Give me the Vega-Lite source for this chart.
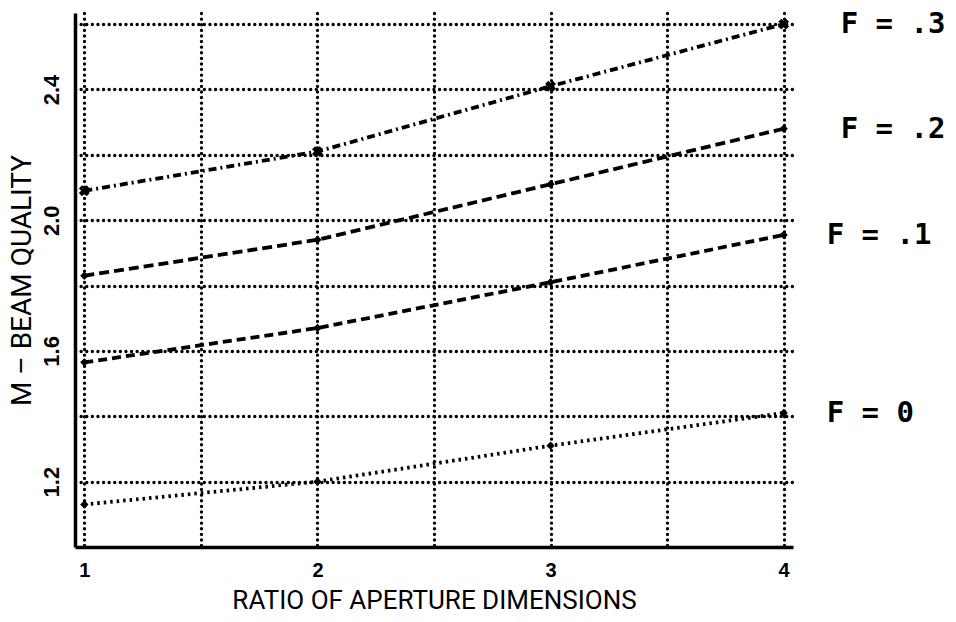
{
  "$schema": "https://vega.github.io/schema/vega-lite/v6.json",
  "width": 718,
  "height": 534,
  "autosize": {"type": "none"},
  "padding": {"left": 75, "top": 13, "right": 163, "bottom": 75},
  "background": "white",
  "config": {"view": {"stroke": null}},
  "data": {
    "values": [
      {"series": "F = .3", "ratio": 1, "m": 2.09},
      {"series": "F = .3", "ratio": 2, "m": 2.21},
      {"series": "F = .3", "ratio": 3, "m": 2.41},
      {"series": "F = .3", "ratio": 4, "m": 2.6},
      {"series": "F = .2", "ratio": 1, "m": 1.83},
      {"series": "F = .2", "ratio": 2, "m": 1.94},
      {"series": "F = .2", "ratio": 3, "m": 2.11},
      {"series": "F = .2", "ratio": 4, "m": 2.28},
      {"series": "F = .1", "ratio": 1, "m": 1.565},
      {"series": "F = .1", "ratio": 2, "m": 1.67},
      {"series": "F = .1", "ratio": 3, "m": 1.81},
      {"series": "F = .1", "ratio": 4, "m": 1.955},
      {"series": "F = 0", "ratio": 1, "m": 1.13},
      {"series": "F = 0", "ratio": 2, "m": 1.2},
      {"series": "F = 0", "ratio": 3, "m": 1.31},
      {"series": "F = 0", "ratio": 4, "m": 1.41}
    ]
  },
  "encoding": {
    "x": {
      "field": "ratio",
      "type": "quantitative",
      "scale": {"domain": [0.96, 4.04], "nice": false, "zero": false},
      "axis": {
        "values": [1, 1.5, 2, 2.5, 3, 3.5, 4],
        "labelExpr": "datum.value % 1 === 0 ? format(datum.value, 'd') : ''",
        "title": "RATIO OF APERTURE DIMENSIONS",
        "grid": true,
        "gridColor": "black",
        "gridDash": [0.1, 5.5],
        "gridWidth": 3.3,
        "gridCap": "round",
        "gridOpacity": 1,
        "domainColor": "black",
        "domainWidth": 3.5,
        "tickSize": 0,
        "labelFont": "Liberation Sans",
        "labelFontWeight": "bold",
        "labelFontSize": 20,
        "labelPadding": 13,
        "labelColor": "black",
        "labelBaseline": "top",
        "titleFont": "Roboto",
        "titleFontSize": 26,
        "titleFontWeight": "normal",
        "titleColor": "black",
        "titleY": 53,
        "titleBaseline": "middle"
      }
    },
    "y": {
      "field": "m",
      "type": "quantitative",
      "scale": {"domain": [1.0, 2.634], "nice": false, "zero": false},
      "axis": {
        "values": [1.2, 1.4, 1.6, 1.8, 2.0, 2.2, 2.4, 2.6],
        "labelExpr": "round(datum.value * 10) % 4 == 0 ? format(datum.value, '.1f') : ''",
        "title": "M – BEAM QUALITY",
        "grid": true,
        "gridColor": "black",
        "gridDash": [0.1, 5.5],
        "gridWidth": 3.3,
        "gridCap": "round",
        "gridOpacity": 1,
        "domainColor": "black",
        "domainWidth": 3.5,
        "tickSize": 0,
        "labelFont": "Liberation Sans",
        "labelFontWeight": "bold",
        "labelFontSize": 22,
        "labelAngle": -90,
        "labelAlign": "center",
        "labelBaseline": "bottom",
        "labelPadding": 12,
        "labelColor": "black",
        "titleFont": "Roboto",
        "titleFontSize": 28,
        "titleFontWeight": "normal",
        "titleColor": "black",
        "titleX": -53,
        "titleY": 267,
        "titleAngle": -90,
        "titleAlign": "center",
        "titleBaseline": "middle"
      }
    }
  },
  "layer": [
    {
      "mark": {"type": "line", "strokeWidth": 3.8, "color": "black"},
      "encoding": {
        "strokeDash": {
          "field": "series",
          "type": "nominal",
          "scale": {
            "domain": ["F = .3", "F = .2", "F = .1", "F = 0"],
            "range": [[8, 4, 2, 4], [10, 5], [9, 5], [2.5, 4]]
          },
          "legend": null
        }
      }
    },
    {
      "transform": [{"filter": "datum.series === 'F = .3'"}],
      "mark": {"type": "point", "shape": "cross", "angle": 45, "filled": true, "color": "black", "size": 120, "opacity": 1}
    },
    {
      "transform": [{"filter": "datum.series !== 'F = .3'"}],
      "mark": {"type": "point", "shape": "diamond", "filled": true, "color": "black", "size": 70, "opacity": 1}
    },
    {
      "transform": [{"filter": "datum.ratio === 4 && (datum.series === 'F = .3' || datum.series === 'F = .2')"}],
      "mark": {"type": "text", "align": "left", "baseline": "middle", "dx": 57, "font": "DejaVu Sans Mono", "fontWeight": "bold", "fontSize": 29, "color": "black"},
      "encoding": {"text": {"field": "series"}}
    },
    {
      "transform": [{"filter": "datum.ratio === 4 && (datum.series === 'F = .1' || datum.series === 'F = 0')"}],
      "mark": {"type": "text", "align": "left", "baseline": "middle", "dx": 43, "font": "DejaVu Sans Mono", "fontWeight": "bold", "fontSize": 29, "color": "black"},
      "encoding": {"text": {"field": "series"}}
    }
  ]
}
